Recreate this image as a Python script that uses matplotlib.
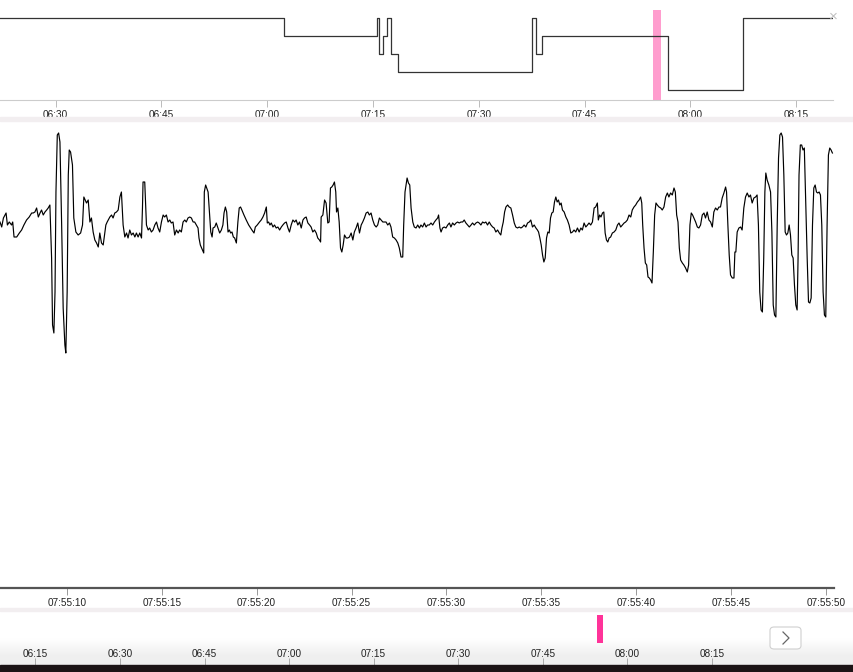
import matplotlib
matplotlib.use("Agg")
import matplotlib.pyplot as plt
from matplotlib.patches import Rectangle, FancyBboxPatch
from matplotlib.lines import Line2D
from matplotlib.colors import LinearSegmentedColormap

plt.rcParams['font.family'] = ['Liberation Sans', 'DejaVu Sans']

# hypnogram: change times (minutes after midnight) and stage level (0 = top row)
stage_times = [382.13, 422.38, 435.52, 435.89, 436.46, 436.94, 437.51, 438.50,
               457.49, 458.06, 458.99, 476.88, 487.43, 500.2]
stage_levels = [0, 1, 0, 2, 1, 0, 2, 3, 0, 2, 1, 4, 0]

# highlighted epoch (minutes after midnight)
epoch_start = 474.7
epoch_end = 475.75

top_ticks = [390, 405, 420, 435, 450, 465, 480, 495]
top_labels = ['06:30', '06:45', '07:00', '07:15', '07:30', '07:45', '08:00', '08:15']

nav_ticks = [375, 390, 405, 420, 435, 450, 465, 480, 495]
nav_labels = ['06:15', '06:30', '06:45', '07:00', '07:15', '07:30', '07:45', '08:00', '08:15']

# EEG trace: seconds after 07:55:00 and amplitude (uV)
eeg_t = [6.47, 6.56, 6.65, 6.79, 6.86, 6.96, 7.08, 7.14, 7.21, 7.35, 7.49, 7.61, 7.73, 7.87,
         8.01, 8.14, 8.22, 8.31, 8.40, 8.49, 8.58, 8.66, 8.75, 8.84, 8.93, 9.01, 9.10, 9.19,
         9.24, 9.31, 9.37, 9.42, 9.49, 9.56, 9.63, 9.72, 9.80, 9.89, 9.94, 10.01, 10.07, 10.12,
         10.19, 10.29, 10.36, 10.47, 10.59, 10.72, 10.82, 10.89, 10.96, 11.03, 11.12, 11.21,
         11.29, 11.38, 11.47, 11.56, 11.65, 11.73, 11.82, 11.91, 12.05, 12.12, 12.26, 12.35,
         12.43, 12.52, 12.61, 12.70, 12.79, 12.87, 12.96, 13.05, 13.14, 13.22, 13.31, 13.40,
         13.49, 13.58, 13.66, 13.75, 13.84, 13.93, 13.98, 14.01, 14.10, 14.19, 14.28, 14.36,
         14.45, 14.54, 14.63, 14.72, 14.80, 14.89, 14.98, 15.07, 15.15, 15.24, 15.33, 15.42,
         15.50, 15.59, 15.68, 15.77, 15.86, 15.94, 16.03, 16.12, 16.21, 16.29, 16.38, 16.47,
         16.56, 16.65, 16.73, 16.82, 16.91, 16.96, 17.03, 17.14, 17.21, 17.24, 17.31,
         17.44, 17.51, 17.58, 17.65, 17.70, 17.79, 17.87, 17.96, 18.05, 18.14, 18.22, 18.28,
         18.35, 18.42, 18.49, 18.56, 18.63, 18.70, 18.77, 18.84, 18.93, 19.01, 19.08, 19.15,
         19.22, 19.33, 19.45, 19.58, 19.68, 19.75, 19.86, 19.93, 20.03, 20.15, 20.24, 20.33,
         20.42, 20.51, 20.56, 20.63, 20.70, 20.77, 20.86, 20.94, 21.03, 21.12, 21.21, 21.30,
         21.38, 21.47, 21.56, 21.65, 21.73, 21.82, 21.91, 22.00, 22.08, 22.17, 22.26, 22.35,
         22.44, 22.52, 22.61, 22.70, 22.79, 22.87, 22.96, 23.05, 23.14, 23.22, 23.31, 23.37,
         23.40, 23.49, 23.58, 23.66, 23.75, 23.82, 23.89, 23.96, 24.03, 24.10, 24.17, 24.21,
         24.28, 24.35, 24.42, 24.49, 24.56, 24.63, 24.72, 24.80, 24.89, 24.98, 25.07, 25.15,
         25.24, 25.33, 25.42, 25.51, 25.59, 25.68, 25.77, 25.86, 25.94, 26.03, 26.12, 26.21,
         26.30, 26.38, 26.47, 26.56, 26.65, 26.73, 26.82, 26.91, 27.00, 27.08, 27.17, 27.26,
         27.35, 27.44, 27.52, 27.61, 27.70, 27.75, 27.82, 27.93, 28.00, 28.07, 28.14,
         28.23, 28.31, 28.40, 28.49, 28.58, 28.66, 28.75, 28.84, 28.93, 29.01, 29.10, 29.19,
         29.28, 29.37, 29.45, 29.54, 29.59, 29.66, 29.72, 29.80, 29.89, 29.98, 30.07, 30.16,
         30.24, 30.33, 30.42, 30.51, 30.59, 30.68, 30.77, 30.86, 30.94, 31.03, 31.12, 31.21,
         31.30, 31.38, 31.47, 31.56, 31.65, 31.73, 31.82, 31.91, 32.00, 32.08, 32.17, 32.26,
         32.35, 32.44, 32.52, 32.61, 32.70, 32.79, 32.87, 32.93, 33.00, 33.07, 33.14, 33.23,
         33.31, 33.40, 33.49, 33.58, 33.66, 33.75, 33.84, 33.93, 34.01, 34.10, 34.19, 34.28,
         34.37, 34.45, 34.54, 34.63, 34.72, 34.80, 34.86, 34.93, 35.00, 35.07, 35.14, 35.21,
         35.28, 35.35, 35.42, 35.49, 35.56, 35.63, 35.70, 35.77, 35.84, 35.91, 35.98, 36.05,
         36.12, 36.21, 36.30, 36.38, 36.47, 36.56, 36.65, 36.73, 36.82, 36.91, 37.00, 37.09,
         37.17, 37.26, 37.35, 37.44, 37.52, 37.61, 37.70, 37.79, 37.87, 37.96, 38.01, 38.08,
         38.15, 38.23, 38.30, 38.37, 38.44, 38.51, 38.58, 38.66, 38.75, 38.84,
         38.93, 39.02, 39.10, 39.19, 39.28, 39.37, 39.45, 39.54, 39.63, 39.72, 39.80, 39.89,
         39.98, 40.07, 40.16, 40.24, 40.30, 40.35, 40.42, 40.49, 40.56, 40.63, 40.70, 40.77,
         40.84, 40.91, 40.98, 41.05, 41.12, 41.21, 41.30, 41.38, 41.47, 41.56, 41.65, 41.73,
         41.82, 41.91, 42.00, 42.07, 42.14, 42.21, 42.28, 42.35, 42.44, 42.52, 42.61, 42.70,
         42.77, 42.84, 42.91, 42.98, 43.05, 43.14, 43.23, 43.31, 43.40, 43.49, 43.58, 43.66,
         43.75, 43.84, 43.93, 44.02, 44.10, 44.19, 44.28, 44.37, 44.45, 44.54, 44.63, 44.72,
         44.77, 44.84, 44.91, 44.98, 45.07, 45.16, 45.21, 45.26, 45.33, 45.42, 45.51, 45.59,
         45.68, 45.77, 45.86, 45.95, 46.03, 46.12, 46.21, 46.30, 46.38, 46.45, 46.52, 46.59,
         46.66, 46.73, 46.79, 46.84, 46.91, 47.00, 47.09, 47.16, 47.23, 47.30, 47.37, 47.44,
         47.51, 47.58, 47.65, 47.72, 47.79, 47.86, 47.93, 48.00, 48.07, 48.14, 48.21, 48.28,
         48.35, 48.42, 48.49, 48.54, 48.59, 48.66, 48.73, 48.80, 48.87, 48.93, 49.02, 49.09,
         49.16, 49.23, 49.30, 49.37, 49.44, 49.51, 49.58, 49.65, 49.72, 49.79, 49.86, 49.93,
         50.00, 50.07, 50.14, 50.21, 50.28, 50.35]
eeg_uv = [3, -2, 7, 12, 0, 3, 0, 3, -12, -12, -8, -5, 0, 5,
          8, 12, 12, 13, 17, 8, 12, 15, 10, 13, 15, 17, 20, -33,
          -100, -108, -67, 33, 90, 92, 83, 0, -83, -120, -128, -67, 50, 75,
          73, 60, 7, -7, -10, -8, 0, 28, 25, 22, 25, 3,
          7, -7, -15, -18, -22, -8, -18, -20, 0, 3, 8, 10,
          7, 12, 13, 15, 28, 33, 0, -12, -8, -13, -5, -10,
          -8, -12, -8, -12, -8, -13, 17, 43, 43, 0, -5, -3,
          -7, -5, 0, 3, -3, -7, 3, 10, 8, 10, 3, 5,
          2, 3, -10, -5, -8, -5, -7, 3, 5, 3, 7, 8,
          7, 3, 3, 0, -3, -13, -20, -25, -28, 33, 40,
          33, 13, -7, -12, -3, -2, 2, -3, -8, -5, 0, 12,
          18, 13, -7, -5, -8, -7, -12, -13, -18, 3, 17, 18,
          15, 10, 5, 0, -3, -5, -8, -2, 0, 3, 5, 8,
          12, 18, 2, 3, 0, 2, -2, 0, -3, -2, -5, -2,
          0, 2, 3, -3, -7, 0, 5, 3, 5, 0, 3, -3,
          5, 7, 8, 2, 0, -2, -7, -5, -8, -13, -15, -17,
          8, 10, 25, 22, 2, 3, 37, 38, 40, 43, 33, 13,
          17, 3, -23, -27, -20, -10, -13, -13, -12, -8, -15, -7,
          -3, 2, -8, 0, 3, 7, 12, 13, 10, 12, 5, 0,
          -2, 0, 7, 5, 3, 3, 3, 0, 2, -2, -12, -13,
          -15, -18, -23, -32, -32, 0, 33, 47, 42, 40, 17,
          3, -2, -3, 0, -3, 0, -2, 2, -2, 0, 0, 2,
          0, 3, 5, 7, 10, -3, -7, -3, -2, -3, 0, 2,
          -2, 2, 0, 2, 3, 2, 3, 3, 5, 2, 0, -2,
          0, 2, 0, 2, 3, 2, 0, 3, 2, 3, 0, 3,
          0, -2, -3, -7, -5, -8, -10, -3, 3, 13, 18, 20,
          18, 17, 10, 2, -2, -3, -2, -3, -2, 0, -2, 2,
          3, 5, -2, 0, -3, -5, -7, -13, -20, -30, -37, -33,
          -13, -7, -8, 7, 12, 13, 23, 28, 23, 25, 20, 22,
          15, 13, 8, 5, 0, -8, -7, -5, -7, -3, -7, -3,
          -5, 2, -2, 0, 2, 0, 3, 17, 18, 22, 5, 10,
          8, 12, 13, -8, -15, -17, -13, -12, -8, -7,
          -5, 0, 2, -2, 0, 2, 3, 5, 10, 8, 15, 18,
          20, 23, 25, 28, 22, 0, -23, -38, -40, -52, -53, -55,
          -58, -27, 10, 22, 20, 18, 17, 15, 18, 28, 32, 28,
          32, 30, 37, 33, 10, 3, -23, -35, -38, -40, -43, -47,
          -40, 0, 12, 10, 7, 3, -2, -3, 0, 10, 12, 7,
          13, 5, 3, -2, 13, 17, 15, 18, 18, 27, 32, 38,
          33, 0, -30, -50, -53, -53, -27, -27, -7, -3, -2, -5,
          17, 28, 32, 28, 30, 22, 27, 28, 30, 0, -67, -85,
          -87, -33, 33, 52, 45, 40, 33, -7, -80, -90, -92, 0,
          67, 90, 92, 88, 50, -7, -10, -8, 0, -10, -30, -33,
          -60, -80, -85, -33, 50, 80, 80, 75, 77, 33, -33, -77,
          -78, -73, 0, 37, 40, 33, 32, 33, 30, 0, -67, -90,
          -92, 0, 70, 77, 75, 72]

eeg_ticks = [10, 15, 20, 25, 30, 35, 40, 45, 50]
eeg_labels = ['07:55:10', '07:55:15', '07:55:20', '07:55:25', '07:55:30',
              '07:55:35', '07:55:40', '07:55:45', '07:55:50']

W, H = 854, 672


def px_rect(x0, y0, x1, y1):
    return [x0 / W, 1 - y1 / H, (x1 - x0) / W, (y1 - y0) / H]


fig = plt.figure(figsize=(8.54, 6.72), dpi=100)

# separators and bottom strip
fig.patches.append(Rectangle((0, 1 - 121 / H), 1, 4 / H, transform=fig.transFigure,
                             color='#f2eef0', zorder=0))
fig.patches.append(Rectangle((0, 1 - 611 / H), 1, 3 / H, transform=fig.transFigure,
                             color='#f2eef0', zorder=0))
fig.patches.append(Rectangle((0, 0), 1, 7 / H, transform=fig.transFigure,
                             color='#1b1315', zorder=0))

# hypnogram
ax_top = fig.add_axes(px_rect(0, 10, 833, 100))
ax_top.plot(stage_times, stage_levels + [stage_levels[-1]], drawstyle='steps-post',
            color='#333333', lw=0.9)
ax_top.axvspan(epoch_start, epoch_end, color='#ff5cae', alpha=0.6, lw=0)
ax_top.set_xlim(382.13, 500.2)
ax_top.set_ylim(4.53, -0.47)
ax_top.set_yticks([])
ax_top.set_xticks(top_ticks)
ax_top.set_xticklabels(top_labels)
ax_top.tick_params(axis='x', length=5, width=0.7, color='#bbbbbb', pad=2,
                   labelsize=7.2, labelcolor='#222222')
for s in ['top', 'left', 'right']:
    ax_top.spines[s].set_visible(False)
ax_top.spines['bottom'].set_color('#cccccc')
ax_top.spines['bottom'].set_linewidth(0.8)
fig.text(833 / W, 1 - 17 / H, '×', color='#c0c0c0', fontsize=11, ha='center', va='center')

# EEG trace
ax_eeg = fig.add_axes(px_rect(0, 122, 834, 588))
ax_eeg.plot(eeg_t, eeg_uv, color='black', lw=0.85)
ax_eeg.set_xlim(6.47, 6.47 + 834 / 18.97)
ax_eeg.set_ylim(-363, 103)
ax_eeg.set_yticks([])
ax_eeg.set_xticks(eeg_ticks)
ax_eeg.set_xticklabels(eeg_labels)
ax_eeg.tick_params(axis='x', length=5, width=0.7, color='#999999', pad=2,
                   labelsize=7.2, labelcolor='#222222')
for s in ['top', 'left', 'right']:
    ax_eeg.spines[s].set_visible(False)
ax_eeg.spines['bottom'].set_color('#555555')
ax_eeg.spines['bottom'].set_linewidth(1.6)

# navigator, white fading to light grey at the bottom
ax_nav = fig.add_axes(px_rect(0, 612, 854, 665))
shade = LinearSegmentedColormap.from_list('shade', ['#ffffff', '#ffffff', '#efefef'])
ax_nav.imshow([[0.0], [0.5], [1.0]], cmap=shade, aspect='auto', interpolation='bilinear',
              extent=(368.72, 520.2, 0, 1), zorder=0)
ax_nav.set_xlim(368.72, 520.2)
ax_nav.set_ylim(0, 1)
ax_nav.axvspan(epoch_start, epoch_end, ymin=0.415, ymax=0.943, color='#ff3399', lw=0)
ax_nav.set_yticks([])
ax_nav.set_xticks(nav_ticks)
ax_nav.set_xticklabels(nav_labels)
ax_nav.tick_params(axis='x', direction='in', length=5, width=0.7, color='#aaaaaa',
                   pad=-11.5, labelsize=7.2, labelcolor='#222222')
for s in ax_nav.spines.values():
    s.set_visible(False)

btn = FancyBboxPatch((770 / W, 1 - 649 / H), 31 / W, 22 / H,
                     boxstyle='round,pad=0,rounding_size=0.005',
                     transform=fig.transFigure, ec='#d0d0d0', fc='white', lw=0.8)
fig.patches.append(btn)
fig.lines.append(Line2D([783 / W, 789 / W, 783 / W],
                        [1 - 632 / H, 1 - 638 / H, 1 - 644 / H],
                        transform=fig.transFigure, color='#666666', lw=0.9))

fig.savefig('out.png', dpi=100)
